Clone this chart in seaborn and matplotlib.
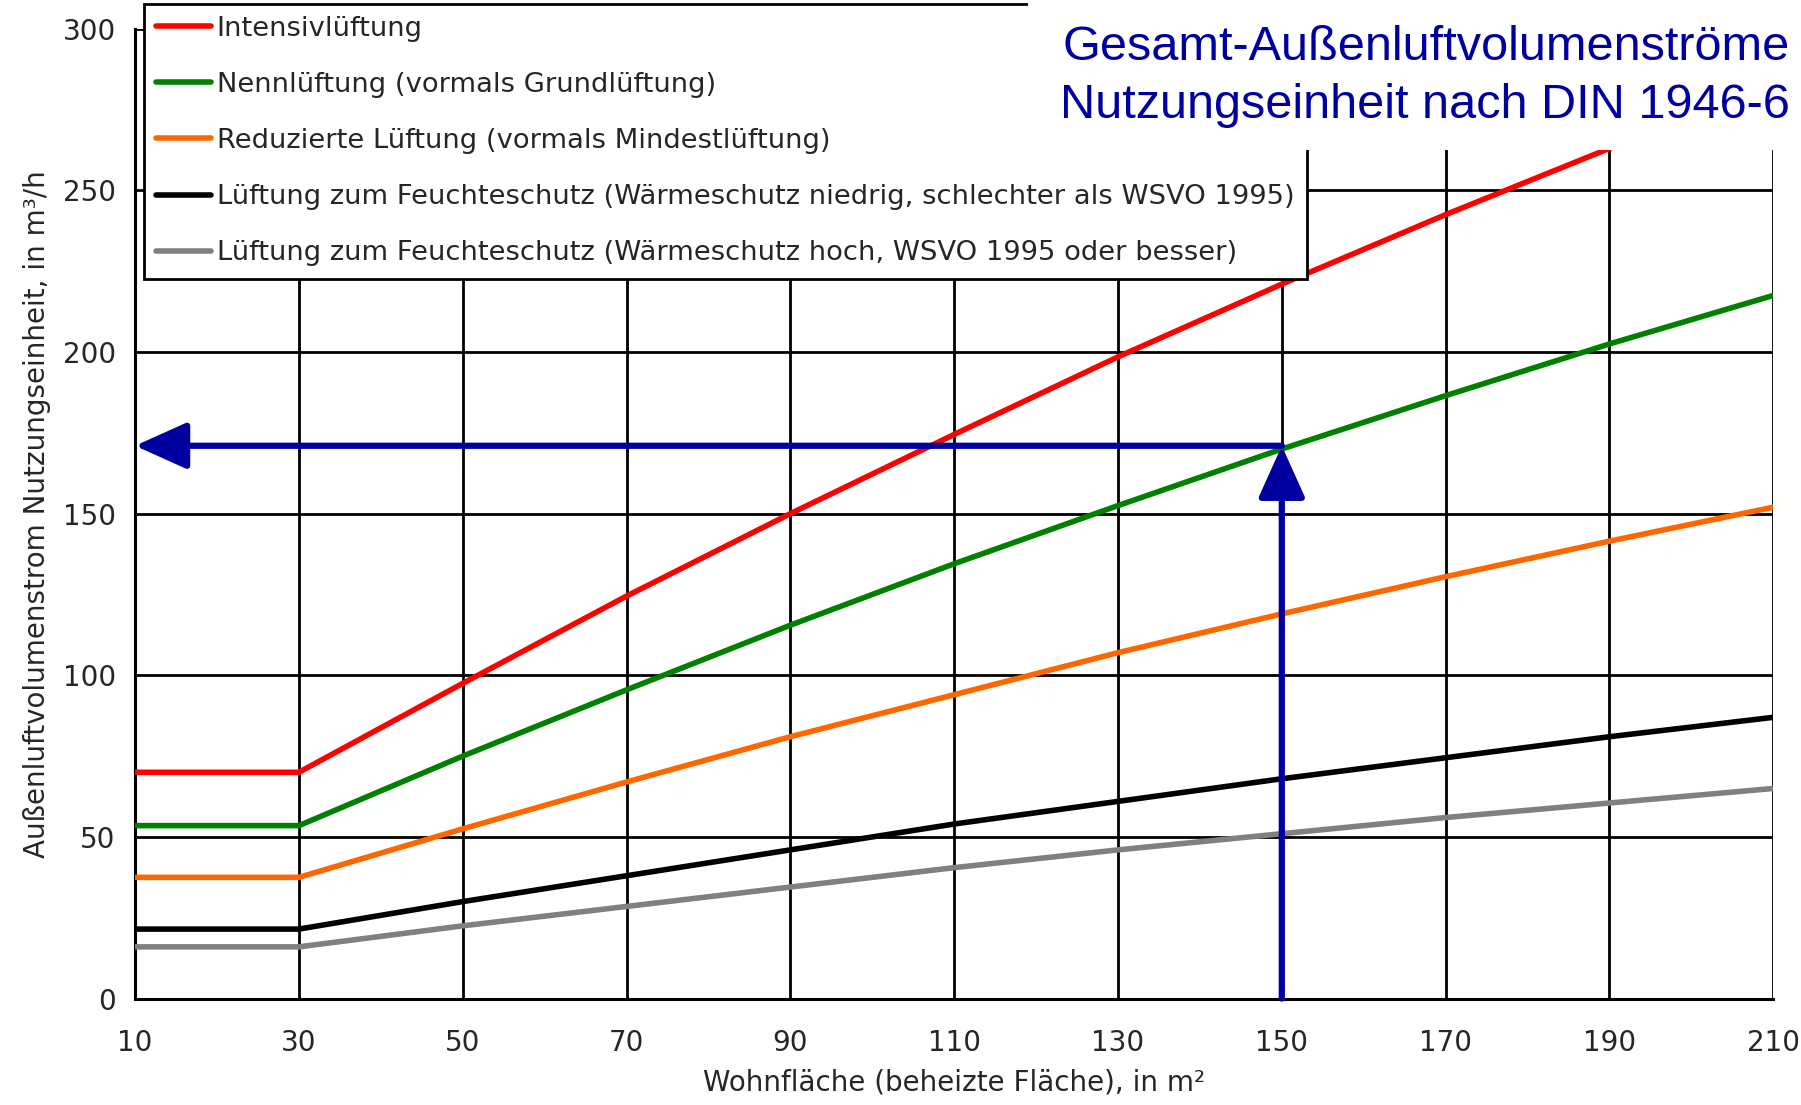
import pandas as pd
import seaborn as sns
import matplotlib.pyplot as plt
from matplotlib.patches import Rectangle

flaeche = [10, 30, 50, 70, 90, 110, 130, 150, 170, 190, 210]
intensiv = [70, 70, 97.5, 124.5, 150, 174.5, 198.5, 221, 242.5, 263, 282.5]
nenn = [53.5, 53.5, 75, 95.5, 115.5, 134.5, 152.5, 170, 186.5, 202.5, 217.5]
reduziert = [37.5, 37.5, 52.5, 67, 81, 94, 107, 119, 130.5, 141.5, 152]
feuchte_niedrig = [21.5, 21.5, 30, 38, 46, 54, 61, 68, 74.5, 81, 87]
feuchte_hoch = [16, 16, 22.5, 28.5, 34.5, 40.5, 46, 51, 56, 60.5, 65]

labels = [
    "Intensivlüftung",
    "Nennlüftung (vormals Grundlüftung)",
    "Reduzierte Lüftung (vormals Mindestlüftung)",
    "Lüftung zum Feuchteschutz (Wärmeschutz niedrig, schlechter als WSVO 1995)",
    "Lüftung zum Feuchteschutz (Wärmeschutz hoch, WSVO 1995 oder besser)",
]
colors = ["#ff0000", "#008000", "#ff6600", "#000000", "#808080"]

# example reading: 150 m² -> 171 m³/h
arrow_x = 150
arrow_y = 171

x_ticks = [10, 30, 50, 70, 90, 110, 130, 150, 170, 190, 210]
y_ticks = [0, 50, 100, 150, 200, 250, 300]

title = "Gesamt-Außenluftvolumenströme\nNutzungseinheit nach DIN 1946-6"
blue = "#0000a0"


def main():
    series = [intensiv, nenn, reduziert, feuchte_niedrig, feuchte_hoch]
    data = pd.concat(
        [pd.DataFrame({"flaeche": flaeche, "q": s, "art": lab}) for s, lab in zip(series, labels)],
        ignore_index=True,
    )

    sns.set_style("white")
    plt.rcParams["font.family"] = ["DejaVu Sans"]

    fig = plt.figure(figsize=(18.01, 11.05), dpi=100)
    ax = fig.add_axes([0.075, 0.0963, 0.9096, 0.8777])

    sns.lineplot(data=data, x="flaeche", y="q", hue="art", palette=colors,
                 linewidth=4, ax=ax, zorder=3)

    ax.set_xlim(10, 210)
    ax.set_ylim(0, 300)
    ax.set_xticks(x_ticks)
    ax.set_yticks(y_ticks)
    ax.grid(True, color="black", linewidth=2)
    ax.set_axisbelow(True)
    for side in ["top", "right"]:
        ax.spines[side].set_visible(False)
    for side in ["left", "bottom"]:
        ax.spines[side].set_color("black")
        ax.spines[side].set_linewidth(2.2)
    ax.tick_params(direction="out", length=8, width=2, color="black",
                   labelsize=20, pad=6)
    ax.tick_params(axis="x", pad=14)

    ax.set_xlabel("Wohnfläche (beheizte Fläche), in m²", fontsize=20, labelpad=8)
    ax.set_ylabel("Außenluftvolumenstrom Nutzungseinheit, in m³/h", fontsize=20, labelpad=8)

    # reading arrows
    arrow_style = "-|>,head_length=1.0,head_width=0.45"
    ax.annotate("", xy=(flaeche[0], arrow_y), xytext=(arrow_x, arrow_y),
                arrowprops=dict(arrowstyle=arrow_style, color=blue, lw=4.5,
                                shrinkA=0, shrinkB=0, mutation_scale=32),
                annotation_clip=False, zorder=5)
    ax.annotate("", xy=(arrow_x, arrow_y), xytext=(arrow_x, y_ticks[0]),
                arrowprops=dict(arrowstyle=arrow_style, color=blue, lw=4.5,
                                shrinkA=0, shrinkB=0, mutation_scale=32),
                annotation_clip=False, zorder=5)

    leg = ax.legend(loc="upper left", bbox_to_anchor=(0.080, 0.9968),
                    bbox_transform=fig.transFigure, borderaxespad=0,
                    fontsize=19.7, frameon=True, fancybox=False, framealpha=1,
                    edgecolor="black", handlelength=2.0, handletextpad=0.2,
                    labelspacing=1.1, borderpad=0.45)
    leg.get_frame().set_linewidth(2)
    leg.set_zorder(10)
    for h in leg.get_lines():
        h.set_linewidth(4)

    # white box behind the title, hides the top right corner
    fig.add_artist(Rectangle((0.571, 0.864), 0.429, 0.136, transform=fig.transFigure,
                             facecolor="white", edgecolor="none", zorder=2))
    fig.text(0.994, 0.977, title, ha="right", va="top", color=blue, fontsize=35,
             family=["Liberation Sans Narrow", "Liberation Sans", "DejaVu Sans"],
             linespacing=1.35, zorder=3)

    fig.savefig("out.png", dpi=100)


if __name__ == "__main__":
    main()
